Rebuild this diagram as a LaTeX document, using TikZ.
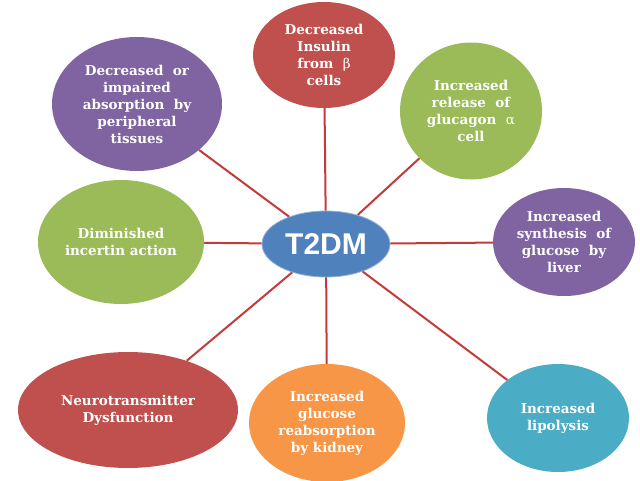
\documentclass[tikz,border=0pt]{standalone}
\usepackage{fontspec}
\setmainfont{DejaVu Serif}
\newfontfamily\headfont{Liberation Sans}
\usetikzlibrary{shapes.geometric}
\definecolor{cred}{HTML}{C0504D}
\definecolor{cgreen}{HTML}{9BBB59}
\definecolor{cpurple}{HTML}{8064A2}
\definecolor{cteal}{HTML}{4BACC6}
\definecolor{corange}{HTML}{F79646}
\definecolor{cblue}{HTML}{4F81BD}
\definecolor{clink}{HTML}{C43A3A}
\tikzset{
  bubble/.style={ellipse, inner sep=0pt, text=white, align=center,
    font=\fontsize{13.5}{17}\selectfont\bfseries},
  hub/.style={ellipse, fill=cblue, draw=cblue!60, line width=0.8pt, inner sep=0pt,
    text=white, font=\headfont\fontsize{30}{32}\selectfont\bfseries,
    minimum width=128pt, minimum height=66pt},
  link/.style={draw=clink, line width=2pt}
}
\begin{document}
\begin{tikzpicture}[x=1pt,y=-1pt]
\useasboundingbox (0,0) rectangle (640,480);
\node[bubble, fill=cred, minimum width=142pt, minimum height=106pt] (ins) at (324,55)
  {Decreased\\Insulin\\from\ \ \textmd{β}\\cells};
\node[bubble, fill=cgreen, minimum width=142pt, minimum height=137pt] (glu) at (471,111)
  {Increased\\release\ \ of\\glucagon\ \ \textmd{α}\\cell};
\node[bubble, fill=cpurple, minimum width=142pt, minimum height=108pt] (liv) at (564,242)
  {Increased\\synthesis\ \ of\\glucose\ \ by\\liver};
\node[bubble, fill=cteal, minimum width=142pt, minimum height=108pt] (lip) at (558,418)
  {Increased\\lipolysis};
\node[bubble, fill=corange, minimum width=156pt, minimum height=118pt] (kid) at (327,423)
  {Increased\\glucose\\reabsorption\\by kidney};
\node[bubble, fill=cred, minimum width=220pt, minimum height=116pt] (neu) at (128,410)
  {Neurotransmitter\\Dysfunction};
\node[bubble, fill=cgreen, minimum width=166pt, minimum height=124pt] (inc) at (121,242)
  {Diminished\\incertin action};
\node[bubble, fill=cpurple, minimum width=170pt, minimum height=134pt] (abs) at (137,104)
  {Decreased\ \ or\\impaired\\absorption\ \ by\\peripheral\\tissues};
\node[hub] (t2dm) at (326,244) {T2DM};
\draw[link] (t2dm) -- (ins);
\draw[link] (t2dm) -- (glu);
\draw[link] (t2dm) -- (liv);
\draw[link] (t2dm) -- (lip);
\draw[link] (t2dm) -- (kid);
\draw[link] (t2dm) -- (neu);
\draw[link] (t2dm) -- (inc);
\draw[link] (t2dm) -- (abs);
\end{tikzpicture}
\end{document}
